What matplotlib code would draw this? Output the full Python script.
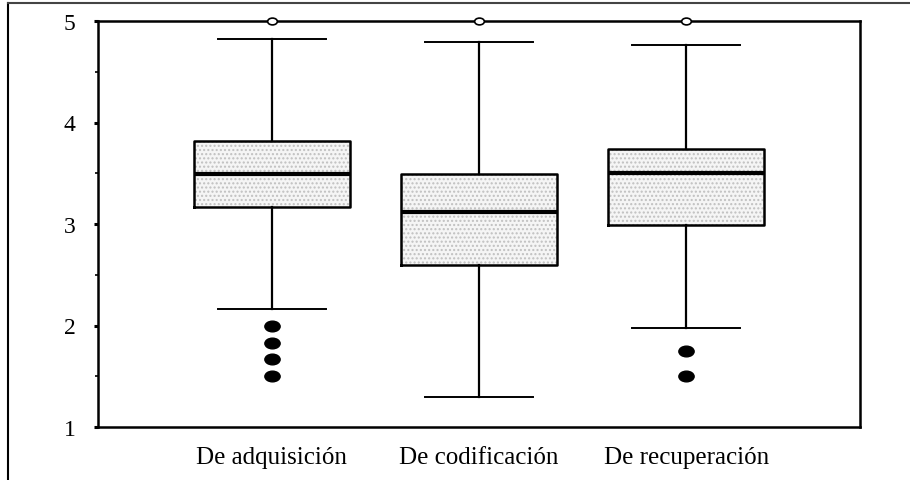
import numpy as np
import matplotlib
matplotlib.use("Agg")
import matplotlib.pyplot as plt
from matplotlib.lines import Line2D
from matplotlib.path import Path
from matplotlib.transforms import Affine2D

plt.rcParams['font.family'] = ['Liberation Serif', 'DejaVu Serif']

# Data
categories = ["De adquisición", "De codificación", "De recuperación"]
whisker_low = [2.16, 1.30, 1.98]
q1 = [3.17, 2.60, 2.99]
median = [3.49, 3.12, 3.50]
q3 = [3.82, 3.49, 3.74]
whisker_high = [4.82, 4.79, 4.76]
outliers_low = [[2.0, 1.83, 1.67, 1.5], [], [1.75, 1.5]]
outliers_high = [[5.0], [5.0], [5.0]]

positions = np.arange(1, len(categories) + 1)

fig = plt.figure(figsize=(9.1, 4.81), dpi=100)
ax = fig.add_axes([98 / 910, 53 / 481, 762 / 910, 406 / 481])

stats = []
for i, name in enumerate(categories):
    stats.append(dict(label=name, whislo=whisker_low[i], q1=q1[i], med=median[i],
                      q3=q3[i], whishi=whisker_high[i], fliers=[]))

# stippled grey fill of the boxes
ax.bar(positions, np.array(q3) - np.array(q1), bottom=q1, width=0.75,
       color='#f5f5f5', edgecolor='#c0c0c0', hatch='....', linewidth=0, zorder=1)

ax.bxp(stats, positions=positions, widths=0.75, showfliers=False,
       patch_artist=False, manage_ticks=False,
       boxprops=dict(color='black', linewidth=1.8),
       medianprops=dict(color='black', linewidth=3.0),
       whiskerprops=dict(color='black', linewidth=1.6),
       capprops=dict(color='black', linewidth=1.4),
       capwidths=0.52, zorder=3)

# filled elliptical outliers
ellipse = Path.unit_circle().transformed(Affine2D().scale(1.0, 0.7))
for i, vals in enumerate(outliers_low):
    if vals:
        ax.plot([positions[i]] * len(vals), vals, linestyle='none', marker=ellipse,
                markersize=11, color='black', zorder=4)
# open circles at the top
for i, vals in enumerate(outliers_high):
    ax.plot([positions[i]] * len(vals), vals, linestyle='none', marker=ellipse,
            markersize=7, markerfacecolor='white', markeredgecolor='black',
            markeredgewidth=1.2, clip_on=False, zorder=5)

ax.set_xlim(0.16, 3.84)
ax.set_ylim(1, 5)
ax.set_yticks([1, 2, 3, 4, 5])
ax.set_yticks([1.5, 2.5, 3.5, 4.5], minor=True)
ax.set_xticks(positions)
ax.set_xticklabels(categories, fontsize=18)
ax.tick_params(axis='x', length=0, pad=14)
ax.tick_params(axis='y', which='major', length=3, width=2.2, labelsize=17, pad=13)
ax.tick_params(axis='y', which='minor', length=2, width=1.2)

for s in ax.spines.values():
    s.set_linewidth(1.8)

# outer frame (top and left edges)
fig.add_artist(Line2D([7.5 / 910, 7.5 / 910], [0, 1 - 3.5 / 481], color='black', linewidth=1.5))
fig.add_artist(Line2D([7.5 / 910, 1], [1 - 3.5 / 481, 1 - 3.5 / 481], color='#444444', linewidth=1.5))

fig.savefig("out.png", dpi=100)
